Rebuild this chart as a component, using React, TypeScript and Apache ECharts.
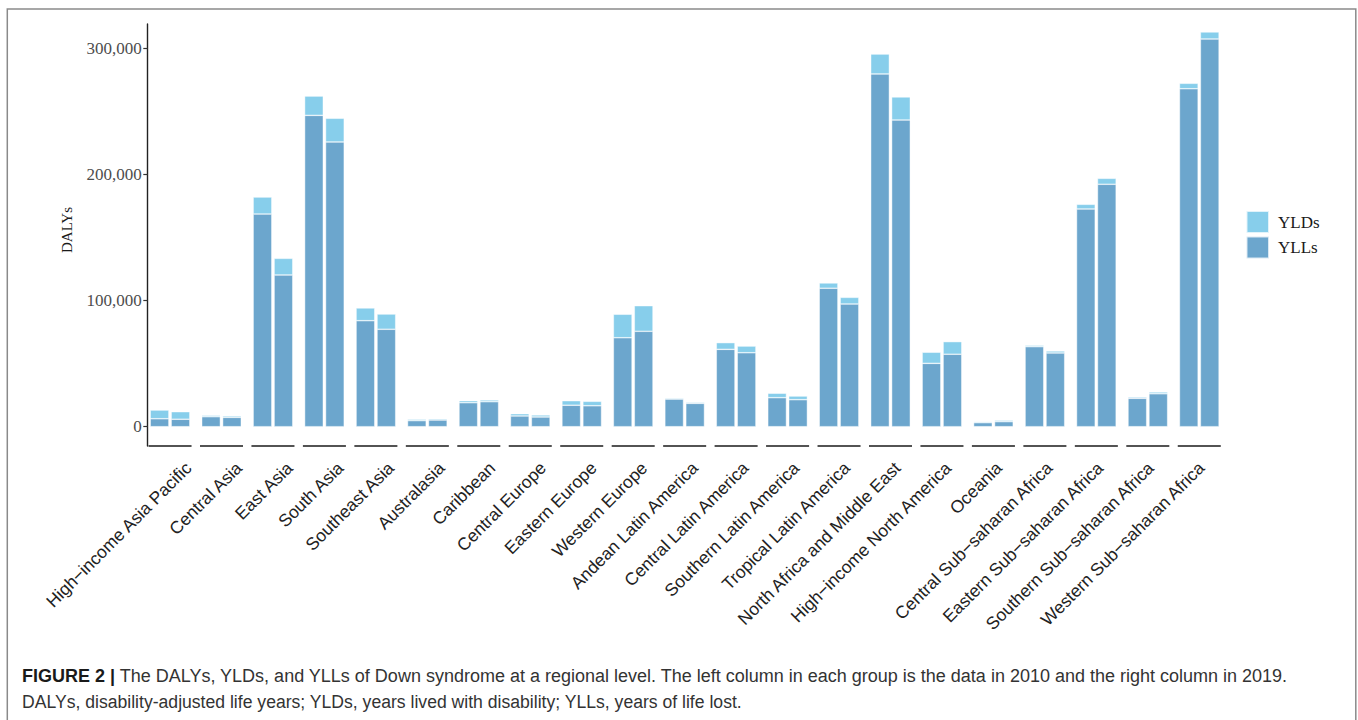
import React, { useEffect, useRef } from "react";
import * as echarts from "echarts";

// GBD super-regions, 2010 (left bar) and 2019 (right bar) in each group
const regions = [
  "High\u2212income Asia Pacific",
  "Central Asia",
  "East Asia",
  "South Asia",
  "Southeast Asia",
  "Australasia",
  "Caribbean",
  "Central Europe",
  "Eastern Europe",
  "Western Europe",
  "Andean Latin America",
  "Central Latin America",
  "Southern Latin America",
  "Tropical Latin America",
  "North Africa and Middle East",
  "High\u2212income North America",
  "Oceania",
  "Central Sub\u2212saharan Africa",
  "Eastern Sub\u2212saharan Africa",
  "Southern Sub\u2212saharan Africa",
  "Western Sub\u2212saharan Africa",
];

// Years of life lost
const yll2010 = [6300, 7900, 168500, 246700, 84000, 4800, 19000, 8500, 17000, 70500, 21900, 61300, 23000, 109700, 279500, 50200, 3200, 63400, 172500, 22500, 267800];
const yll2019 = [5900, 7400, 120200, 225600, 77200, 5300, 19800, 7700, 16600, 75600, 18500, 58600, 21400, 97200, 243000, 57400, 4000, 58400, 192100, 26100, 307200];

// Years lived with disability
const yld2010 = [6900, 1100, 13500, 15300, 10100, 1100, 1600, 1800, 3600, 18600, 800, 5300, 3500, 4200, 15800, 8800, 800, 1100, 3700, 1000, 4300];
const yld2019 = [6000, 1100, 13200, 18800, 12100, 1000, 1400, 1600, 3500, 20300, 800, 5300, 2900, 5300, 18300, 10000, 1100, 1600, 4700, 1400, 5600];

const yTicks = [0, 100000, 200000, 300000];
const Y_MIN = -15300;
const Y_MAX = 319100;

const YLD_COLOR = "#87CEEB";
const YLL_COLOR = "#6CA6CD";
const SERIF = "'Liberation Serif', 'Times New Roman', serif";
const SANS = "'Liberation Sans', Arial, Helvetica, sans-serif";

export default function App() {
  const ref = useRef<HTMLDivElement>(null);

  useEffect(() => {
    document.body.style.margin = "0";
    const chart = echarts.init(ref.current!, null, { renderer: "svg" });

    const barStyle = (color: string) => ({
      color,
      borderColor: "rgba(255,255,255,0.75)",
      borderWidth: 0.6,
    });

    const barCommon = {
      type: "bar" as const,
      xAxisIndex: 0,
      yAxisIndex: 0,
      barWidth: 18.7,
      barGap: "12%",
    };

    chart.setOption({
      animation: false,
      backgroundColor: "#ffffff",
      grid: [
        { left: 144.3, width: 1080.7, top: 24, height: 422 },
        { left: 163, width: 1063.7, top: 24, height: 422 },
      ],
      legend: {
        data: ["YLDs", "YLLs"],
        orient: "vertical",
        left: 1245.5,
        top: 210,
        padding: 0,
        itemWidth: 22.5,
        itemHeight: 22,
        itemGap: 1.5,
        icon: "rect",
        selectedMode: false,
        textStyle: {
          fontFamily: SERIF,
          fontSize: 17,
          color: "#1a1a1a",
          padding: [0, 0, 0, 4],
        },
      },
      xAxis: [
        {
          type: "category",
          gridIndex: 0,
          data: regions,
          axisLine: { show: false },
          axisTick: { show: false },
          axisLabel: { show: false },
        },
        {
          // region names
          type: "category",
          gridIndex: 1,
          data: regions,
          axisLine: { show: false },
          axisTick: { show: false },
          axisLabel: {
            interval: 0,
            rotate: 45,
            margin: 19,
            fontFamily: SANS,
            fontSize: 17.5,
            color: "#222",
          },
        },
      ],
      yAxis: [
        {
          type: "value",
          gridIndex: 0,
          min: Y_MIN,
          max: Y_MAX,
          offset: -3.4,
          splitLine: { show: false },
          axisLine: { show: true, lineStyle: { color: "#222", width: 1.4 } },
          axisTick: {
            show: true,
            length: 4.4,
            customValues: yTicks,
            lineStyle: { color: "#333", width: 1.2 },
          },
          axisLabel: {
            customValues: yTicks,
            margin: 6,
            fontFamily: SERIF,
            fontSize: 17,
            color: "#4d4d4d",
            formatter: (v: number) => v.toLocaleString("en-US"),
          },
        },
        { type: "value", gridIndex: 1, show: false, min: 0, max: 1 },
      ],
      series: [
        { ...barCommon, name: "YLLs", stack: "y2010", data: yll2010, itemStyle: barStyle(YLL_COLOR) },
        { ...barCommon, name: "YLDs", stack: "y2010", data: yld2010, itemStyle: barStyle(YLD_COLOR) },
        { ...barCommon, name: "YLLs", stack: "y2019", data: yll2019, itemStyle: barStyle(YLL_COLOR) },
        { ...barCommon, name: "YLDs", stack: "y2019", data: yld2019, itemStyle: barStyle(YLD_COLOR) },
        {
          // capped x axis: one short segment under each region
          type: "custom",
          xAxisIndex: 0,
          yAxisIndex: 0,
          clip: false,
          silent: true,
          data: regions.map((_, i) => [i, Y_MIN]),
          renderItem: (_params: any, api: any) => {
            const p = api.coord([api.value(0), Y_MIN]);
            const band = api.size([1, 0])[0];
            const half = band * 0.418;
            return {
              type: "line",
              shape: { x1: p[0] - half, y1: p[1], x2: p[0] + half, y2: p[1] },
              style: { stroke: "#1a1a1a", lineWidth: 1.6 },
            };
          },
        },
      ],
      graphic: [
        {
          type: "rect",
          shape: { x: 7.3, y: 9, width: 1348.5, height: 720 },
          style: { fill: "none", stroke: "#8a8a8a", lineWidth: 1.5 },
          silent: true,
        },
        {
          type: "text",
          x: 67,
          y: 230,
          rotation: Math.PI / 2,
          style: {
            text: "DALYs",
            fontFamily: SERIF,
            fontSize: 15,
            fill: "#1a1a1a",
            align: "center",
            verticalAlign: "middle",
          },
        },
        {
          type: "text",
          x: 22,
          y: 676,
          style: {
            text:
              "{b|FIGURE 2 |} The DALYs, YLDs, and YLLs of Down syndrome at a regional level. The left column in each group is the data in 2010 and the right column in 2019.",
            fontFamily: SANS,
            fontSize: 18,
            fill: "#333",
            verticalAlign: "middle",
            rich: {
              b: { fontFamily: SANS, fontSize: 18, fontWeight: "bold", fill: "#1a1a1a" },
            },
          },
        },
        {
          type: "text",
          x: 22,
          y: 702,
          style: {
            text: "DALYs, disability-adjusted life years; YLDs, years lived with disability; YLLs, years of life lost.",
            fontFamily: SANS,
            fontSize: 17.6,
            fill: "#333",
            verticalAlign: "middle",
          },
        },
      ],
    });

    return () => chart.dispose();
  }, []);

  return (
    <div
      ref={ref}
      style={{ position: "fixed", left: 0, top: 0, width: 1358, height: 720 }}
    />
  );
}
